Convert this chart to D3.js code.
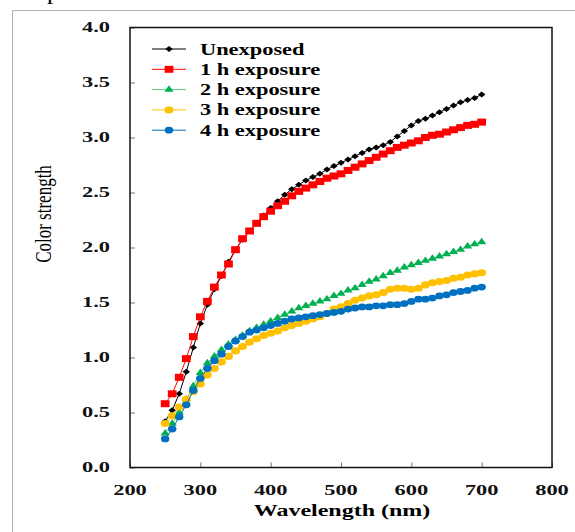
<!DOCTYPE html>
<html>
<head>
<meta charset="utf-8">
<script src="https://cdn.jsdelivr.net/npm/d3@7"></script>
<style>
  body { margin: 0; background: #fff; }
  svg { display: block; }
</style>
</head>
<body>
<div id="chart"></div>
<script>
// wavelength samples (nm)
const wavelengths = d3.range(250, 701, 10);

// colour strength readings, one list per exposure time
const unexposed = [0.42, 0.52, 0.67, 0.87, 1.09, 1.31, 1.48, 1.62, 1.74, 1.87,
  1.98, 2.07, 2.15, 2.22, 2.29, 2.36, 2.42, 2.48, 2.53, 2.57,
  2.61, 2.64, 2.67, 2.71, 2.74, 2.77, 2.80, 2.83, 2.86, 2.89,
  2.91, 2.93, 2.96, 3.01, 3.06, 3.11, 3.15, 3.17, 3.20, 3.23,
  3.26, 3.29, 3.32, 3.34, 3.36, 3.39];
const exposure1h = [0.58, 0.67, 0.82, 0.99, 1.19, 1.37, 1.51, 1.64, 1.75, 1.85,
  1.98, 2.08, 2.15, 2.22, 2.28, 2.33, 2.38, 2.42, 2.47, 2.51,
  2.54, 2.57, 2.60, 2.63, 2.65, 2.67, 2.70, 2.73, 2.76, 2.79,
  2.82, 2.85, 2.88, 2.91, 2.93, 2.95, 2.97, 3.00, 3.02, 3.03,
  3.05, 3.07, 3.09, 3.11, 3.12, 3.14];
const exposure2h = [0.31, 0.40, 0.50, 0.62, 0.74, 0.86, 0.95, 1.01, 1.07, 1.12,
  1.16, 1.20, 1.24, 1.27, 1.30, 1.33, 1.36, 1.39, 1.42, 1.45,
  1.47, 1.49, 1.51, 1.53, 1.56, 1.58, 1.61, 1.63, 1.66, 1.69,
  1.71, 1.74, 1.77, 1.79, 1.82, 1.84, 1.86, 1.88, 1.90, 1.92,
  1.94, 1.96, 1.98, 2.01, 2.03, 2.05];
const exposure3h = [0.40, 0.47, 0.55, 0.62, 0.69, 0.76, 0.84, 0.90, 0.96, 1.01,
  1.06, 1.10, 1.14, 1.17, 1.20, 1.22, 1.24, 1.27, 1.29, 1.31,
  1.33, 1.35, 1.37, 1.40, 1.44, 1.46, 1.49, 1.52, 1.54, 1.56,
  1.57, 1.59, 1.62, 1.63, 1.63, 1.62, 1.63, 1.66, 1.68, 1.69,
  1.70, 1.72, 1.73, 1.75, 1.76, 1.77];
const exposure4h = [0.26, 0.35, 0.46, 0.57, 0.70, 0.81, 0.90, 0.97, 1.03, 1.10,
  1.15, 1.19, 1.23, 1.25, 1.27, 1.29, 1.31, 1.33, 1.35, 1.36,
  1.37, 1.38, 1.39, 1.40, 1.41, 1.42, 1.44, 1.45, 1.46, 1.46,
  1.47, 1.47, 1.48, 1.48, 1.49, 1.51, 1.53, 1.53, 1.54, 1.56,
  1.57, 1.59, 1.60, 1.61, 1.63, 1.64];

const seriesNames = ["Unexposed", "1 h exposure", "2 h exposure", "3 h exposure", "4 h exposure"];
const seriesValues = [unexposed, exposure1h, exposure2h, exposure3h, exposure4h];
const lineColors = ["#000000", "#ff0000", "#5ccf7e", "#ffc000", "#0070c0"];
const markColors = ["#000000", "#ff0000", "#00b050", "#ffc000", "#0070c0"];

const xTicks = [200, 300, 400, 500, 600, 700, 800];
const yTicks = [0, 0.5, 1, 1.5, 2, 2.5, 3, 3.5, 4];

const W = 575, H = 532;
const margin = {left: 130, top: 27.5, right: 552, bottom: 467.5};
const stretch = 1.5; // the source picture is widened horizontally

const svg = d3.select("#chart").append("svg")
  .attr("width", W).attr("height", H);

// grey page frame and cut-off letter above
svg.append("path")
  .attr("d", "M12.5," + H + "V10.5H" + W)
  .attr("fill", "none").attr("stroke", "#b0b0b0").attr("stroke-width", 1);
svg.append("text")
  .attr("transform", "translate(47,0) scale(1.4,1)")
  .style("font", "18px 'Liberation Serif'")
  .text("p");

const x = d3.scaleLinear().domain([200, 800]).range([margin.left, margin.right]);
const y = d3.scaleLinear().domain([0, 4]).range([margin.bottom, margin.top]);

// axes with inward ticks
const gx = svg.append("g").attr("transform", "translate(0," + margin.bottom + ")")
  .call(d3.axisBottom(x).tickValues(xTicks).tickSizeInner(-5).tickSizeOuter(0).tickFormat(""));
const gy = svg.append("g").attr("transform", "translate(" + margin.left + ",0)")
  .call(d3.axisLeft(y).tickValues(yTicks).tickSizeInner(-5).tickSizeOuter(0).tickFormat(""));
[gx, gy].forEach(g => {
  g.select(".domain").remove();
  g.selectAll(".tick line").attr("stroke", "#777");
});

// plot frame
svg.append("rect")
  .attr("x", margin.left).attr("y", margin.top)
  .attr("width", margin.right - margin.left).attr("height", margin.bottom - margin.top)
  .attr("fill", "none").attr("stroke", "#111").attr("stroke-width", 1.5);

// tick labels
svg.append("g").selectAll("text").data(yTicks).join("text")
  .attr("transform", d => "translate(110," + (y(d) + 4.5) + ") scale(1.6,1)")
  .attr("text-anchor", "end")
  .style("font", "bold 14px 'Liberation Serif'")
  .attr("fill", "#111")
  .text(d => d.toFixed(1));
svg.append("g").selectAll("text").data(xTicks).join("text")
  .attr("transform", d => "translate(" + x(d) + ",495) scale(1.6,1)")
  .attr("text-anchor", "middle")
  .style("font", "bold 14px 'Liberation Serif'")
  .attr("fill", "#111")
  .text(d => d);

// axis titles
svg.append("text")
  .attr("transform", "translate(342,516) scale(" + stretch + ",1)")
  .attr("text-anchor", "middle")
  .style("font", "bold 16px 'Liberation Serif'")
  .text("Wavelength (nm)");
svg.append("text")
  .attr("transform", "translate(51,214) scale(1.35,1) rotate(-90)")
  .attr("text-anchor", "middle")
  .style("font", "17px 'Liberation Serif'")
  .text("Color strength");

// marker shapes per series
const symbols = [
  d3.symbol().type(d3.symbolSquare).size(18),
  d3.symbol().type(d3.symbolSquare).size(49),
  d3.symbol().type(d3.symbolTriangle).size(24),
  d3.symbol().type(d3.symbolCircle).size(40),
  d3.symbol().type(d3.symbolCircle).size(36)
];
const symbolRotate = [45, 0, 0, 0, 0];
const line = d3.line().x(d => x(d[0])).y(d => y(d[1]));

seriesValues.forEach((vals, i) => {
  const pts = wavelengths.map((w, j) => [w, vals[j]]);
  const g = svg.append("g");
  g.append("path").datum(pts)
    .attr("d", line)
    .attr("fill", "none").attr("stroke", lineColors[i]).attr("stroke-width", 1);
  g.selectAll("path.mk").data(pts).join("path")
    .attr("class", "mk")
    .attr("d", symbols[i])
    .attr("transform", d => "translate(" + x(d[0]) + "," + y(d[1]) + ") scale(1.25,1) rotate(" + symbolRotate[i] + ")")
    .attr("fill", markColors[i]);
});

// legend
const legend = svg.append("g");
seriesNames.forEach((name, i) => {
  const ly = 49 + i * 20.3;
  legend.append("line")
    .attr("x1", 152).attr("x2", 186).attr("y1", ly).attr("y2", ly)
    .attr("stroke", lineColors[i]).attr("stroke-width", 1);
  legend.append("path")
    .attr("d", symbols[i])
    .attr("transform", "translate(169," + ly + ") scale(1.25,1) rotate(" + symbolRotate[i] + ")")
    .attr("fill", markColors[i]);
  legend.append("text")
    .attr("transform", "translate(200," + (ly + 5.5) + ") scale(1.4,1)")
    .style("font", "bold 16px 'Liberation Serif'")
    .text(name);
});
</script>
</body>
</html>
